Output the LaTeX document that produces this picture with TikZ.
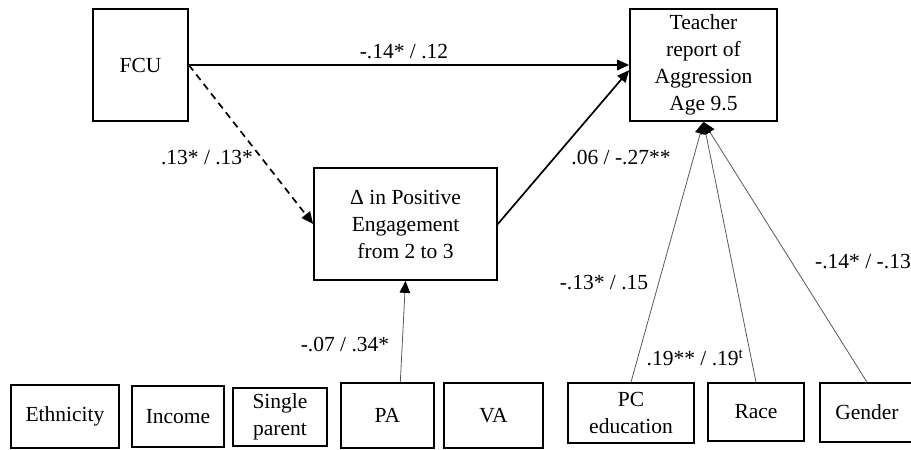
\documentclass[tikz,border=0pt]{standalone}
\usepackage{fontspec}
\setmainfont{Liberation Serif}
\usetikzlibrary{arrows.meta}

\begin{document}
\begin{tikzpicture}[x=1pt, y=-1pt, >={Triangle[length=12pt,width=10.5pt,color=black]},
  font=\rmfamily\fontsize{21.5}{27}\selectfont,
  box/.style={draw, line width=1.7pt, align=center, inner sep=0pt},
  mainpath/.style={line width=1.7pt},
  ctrlpath/.style={draw=black!65, line width=0.8pt},
  coef/.style={inner sep=0pt}]

\useasboundingbox (0,0) rectangle (911,450);

\node [box, minimum width=95pt, minimum height=112pt] (fcu) at (140.5,65) {FCU};
\node [box, minimum width=147pt, minimum height=112pt] (teacher) at (703.5,65)
  {Teacher\\report of\\Aggression\\Age 9.5};
\node [box, minimum width=183pt, minimum height=112pt] (delta) at (405.5,224)
  {Δ in Positive\\Engagement\\from 2 to 3};

% covariates along the bottom
\foreach \n/\t/\cx/\cy/\w/\h in {eth/{Ethnicity}/65/416.5/108/63,
    inc/{Income}/178/416.5/92/61,
    single/{Single\\parent}/280/417/94/58,
    pa/{PA}/387.5/415.5/93/65,
    va/{VA}/493.5/415.5/99/65,
    pced/{PC\\education}/631/413/126/60,
    race/{Race}/756/412/96/58,
    gender/{Gender}/867/412.5/94/59}
  \node [box, minimum width=\w pt, minimum height=\h pt] (\n) at (\cx,\cy) {\t};

\draw [->, mainpath] (fcu.east) -- (teacher.west);
\draw [->, mainpath, dash pattern=on 7pt off 5pt] (fcu.east) -- (delta.west);
\draw [->, mainpath] (delta.east) -- (teacher.184);

\draw [->, ctrlpath] (pa.69) -- (delta.south);
\foreach \n in {pced,race,gender}
  \draw [->, ctrlpath] (\n.north) -- (teacher.south);

\node [coef] (c-fcu) at (404,52) {-.14* / .12};
\node [coef] (c-a) at (207,158) {.13* / .13*};
\node [coef] (c-b) at (621,158) {.06 / -.27**};
\node [coef] (c-pa) at (345,344) {-.07 / .34*};
\node [coef] (c-pced) at (604,283) {-.13* / .15};
\node [coef] (c-race) at (695,358) {.19** / .19\textsuperscript{t}};
\node [coef, anchor=west] (c-gender) at (815,262) {-.14* / -.13};

\end{tikzpicture}
\end{document}
